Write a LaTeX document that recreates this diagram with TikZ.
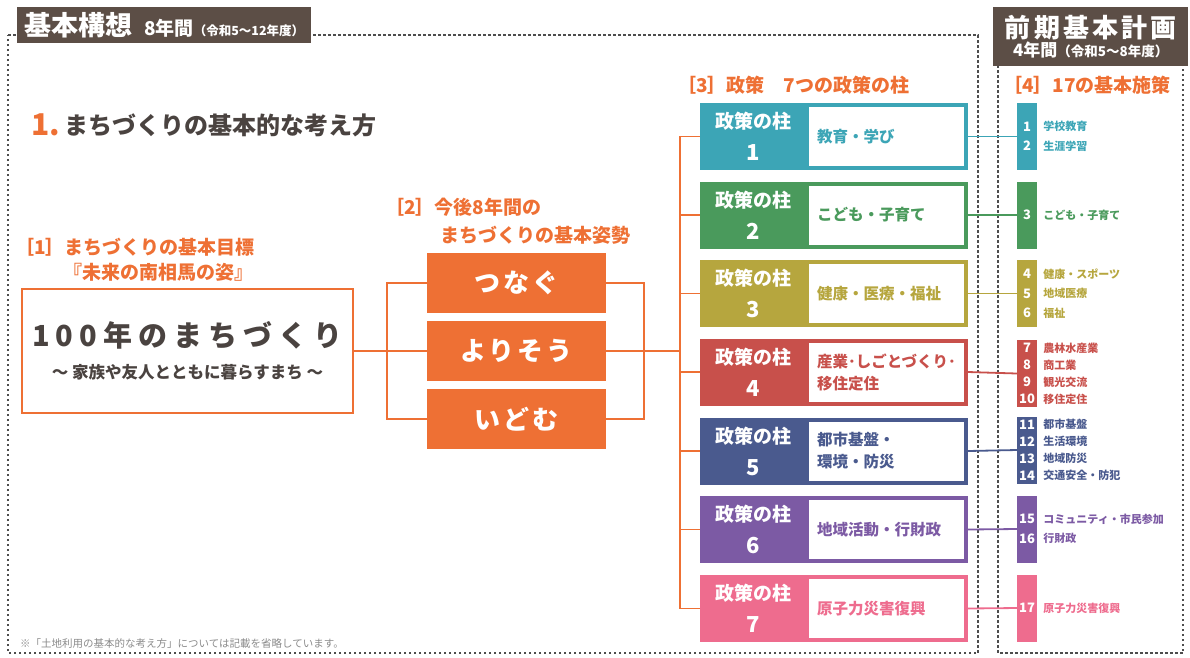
\documentclass[tikz,border=0pt]{standalone}
\usepackage{fontspec}
\setmainfont{Noto Sans CJK JP}
\newfontfamily\jpwide{Noto Sans CJK JP}[LetterSpace=12]
\newfontfamily\jpwider{Noto Sans CJK JP}[LetterSpace=21]
\usetikzlibrary{positioning}
\definecolor{brand}{HTML}{EE7034}
\definecolor{headbrown}{HTML}{5C4E46}
\definecolor{framegray}{HTML}{4D4D4D}
\definecolor{inkgray}{HTML}{4A4340}
\definecolor{notegray}{HTML}{8A8A8A}
\definecolor{c1}{HTML}{3CA5B6}
\definecolor{c2}{HTML}{4A9A5C}
\definecolor{c3}{HTML}{B6A63E}
\definecolor{c4}{HTML}{C8504B}
\definecolor{c5}{HTML}{4A5A8E}
\definecolor{c6}{HTML}{7C5AA4}
\definecolor{c7}{HTML}{EE6C8E}

\begin{document}
\begin{tikzpicture}
[ x=1pt, y=-1pt,
frame/.style={draw=framegray, line width=1.6pt, dash pattern=on 2.5pt off 2.5pt},
header/.style={fill=headbrown, text=white, inner sep=0pt, font=\bfseries},
caption/.style={anchor=west, inner sep=0pt, text=brand, font=\bfseries\fontsize{19}{19}\selectfont},
stance/.style={rectangle, fill=brand, text=white, inner sep=0pt,
 minimum width=179pt, minimum height=60pt, font=\bfseries\jpwide\fontsize{26}{26}\selectfont},
pillar/.style={rectangle, text=white, inner sep=0pt, align=center,
 minimum width=107pt, minimum height=67pt, font=\bfseries\fontsize{19}{32}\selectfont},
theme/.style={rectangle, fill=white, line width=4pt, inner xsep=10pt, inner ysep=0pt,
 text width=139pt, align=left, minimum height=63pt, font=\bfseries\fontsize{15.5}{22}\selectfont},
bar/.style={rectangle, text=white, inner sep=0pt, align=center,
 minimum width=20pt, minimum height=67pt, font=\bfseries\fontsize{13}{19.5}\selectfont},
item/.style={inner sep=0pt, align=left, font=\bfseries\fontsize{11}{19.5}\selectfont},
link/.style={draw=brand, line width=1.8pt},
] 
\useasboundingbox (0,0) rectangle (1190,657);

% dashed frames
\draw[frame] (8,35) -- (978,35) -- (978,653) -- (8,653) -- cycle;
\draw[frame] (998,40) -- (998,653) -- (1183,653) -- (1183,40);

% headers
\node (hdr1) [header, anchor=north west, minimum width=294pt, minimum height=36pt] at (17,7)
 {{\fontsize{27}{27}\selectfont 基本構想}\hspace{12pt}{\fontsize{19}{19}\selectfont 8年間}{\fontsize{12.5}{12.5}\selectfont （令和5〜12年度）}};
\node (hdr2) [header, anchor=north west, align=center, minimum width=195pt, minimum height=59pt] at (993,7)
 {{\jpwide\fontsize{26}{30}\selectfont 前期基本計画}\\{\fontsize{17}{20}\selectfont 4年間}{\fontsize{13.5}{20}\selectfont （令和5〜8年度）}};

% title
\node (num1) [anchor=west, inner sep=0pt, text=brand, font=\bfseries\fontsize{30}{30}\selectfont] at (31,125) {1.};
\node (title) [right=4pt of num1, inner sep=0pt, text=inkgray, font=\bfseries\fontsize{24}{24}\selectfont] {まちづくりの基本的な考え方};

% [1] goal
\node (cap1a) [caption] at (15,247) {［1］まちづくりの基本目標};
\node (cap1b) [caption] at (63,272) {『未来の南相馬の姿』};
\node (goal) [rectangle, draw=brand, line width=2pt, inner sep=0pt, align=center, text=inkgray,
 minimum width=331pt, minimum height=124pt] at (187.5,351)
 {{\bfseries\jpwider\fontsize{29}{29}\selectfont 100年のまちづくり}\\[14pt]
  {\bfseries\fontsize{16.5}{16.5}\selectfont 〜 家族や友人とともに暮らすまち 〜}};

% [2] stances
\node (cap2a) [caption] at (385,207) {［2］今後8年間の};
\node (cap2b) [caption] at (440,235) {まちづくりの基本姿勢};
\node (s1) [stance] at (516.5,283) {つなぐ};
\node (s2) [stance] at (516.5,351) {よりそう};
\node (s3) [stance] at (516.5,419) {いどむ};

\coordinate (bl) at (387,351);
\coordinate (br) at (644,351);
\coordinate (tr) at (680,351);
\draw[link] (goal.east) -- (s2.west);
\draw[link] (s1.west) -| (bl) |- (s3.west);
\draw[link] (s1.east) -| (br) |- (s3.east);
\draw[link] (s2.east) -- (tr);

% [3] pillars
\node (cap3) [caption] at (677,85) {［3］政策　7つの政策の柱};
\node (p1) [pillar, fill=c1] at (753.5,136.5) {政策の柱\\{\fontsize{22}{32}\selectfont 1}};
\node (p2) [pillar, fill=c2] at (753.5,215) {政策の柱\\{\fontsize{22}{32}\selectfont 2}};
\node (p3) [pillar, fill=c3] at (753.5,293.5) {政策の柱\\{\fontsize{22}{32}\selectfont 3}};
\node (p4) [pillar, fill=c4] at (753.5,372) {政策の柱\\{\fontsize{22}{32}\selectfont 4}};
\node (p5) [pillar, fill=c5] at (753.5,451) {政策の柱\\{\fontsize{22}{32}\selectfont 5}};
\node (p6) [pillar, fill=c6] at (753.5,529.5) {政策の柱\\{\fontsize{22}{32}\selectfont 6}};
\node (p7) [pillar, fill=c7] at (753.5,608.5) {政策の柱\\{\fontsize{22}{32}\selectfont 7}};

\node (p1t) [theme, draw=c1, text=c1] at (886.5,136.5) {教育・学び};
\node (p2t) [theme, draw=c2, text=c2] at (886.5,215) {こども・子育て};
\node (p3t) [theme, draw=c3, text=c3] at (886.5,293.5) {健康・医療・福祉};
\node (p4t) [theme, draw=c4, text=c4] at (886.5,372) {産業･しごとづくり･\\移住定住};
\node (p5t) [theme, draw=c5, text=c5] at (886.5,451) {都市基盤・\\環境・防災};
\node (p6t) [theme, draw=c6, text=c6] at (886.5,529.5) {地域活動・行財政};
\node (p7t) [theme, draw=c7, text=c7] at (886.5,608.5) {原子力災害復興};

\foreach \i in {1,...,7}
 \draw[link] (p\i.west) -| (tr);

% [4] measures
\node (cap4) [caption] at (1003,85) {［4］17の基本施策};
\node (b1) [bar, fill=c1] at (1027,136.5) {1\\2};
\node (b2) [bar, fill=c2] at (1027,215) {3};
\node (b3) [bar, fill=c3] at (1027,293.5) {4\\5\\6};
\node (b4) [bar, fill=c4, font=\bfseries\fontsize{13}{17}\selectfont] at (1027,373.5) {7\\8\\9\\10};
\node (b5) [bar, fill=c5, font=\bfseries\fontsize{13}{17}\selectfont] at (1027,450) {11\\12\\13\\14};
\node (b6) [bar, fill=c6] at (1027,529) {15\\16};
\node (b7) [bar, fill=c7] at (1027,608) {17};

\node (i1) [item, text=c1, right=6pt of b1] {学校教育\\生涯学習};
\node (i2) [item, text=c2, right=6pt of b2] {こども・子育て};
\node (i3) [item, text=c3, right=6pt of b3] {健康・スポーツ\\地域医療\\福祉};
\node (i4) [item, text=c4, right=6pt of b4, font=\bfseries\fontsize{11}{17}\selectfont] {農林水産業\\商工業\\観光交流\\移住定住};
\node (i5) [item, text=c5, right=6pt of b5, font=\bfseries\fontsize{11}{17}\selectfont] {都市基盤\\生活環境\\地域防災\\交通安全・防犯};
\node (i6) [item, text=c6, right=6pt of b6] {コミュニティ・市民参加\\行財政};
\node (i7) [item, text=c7, right=6pt of b7] {原子力災害復興};

\draw[draw=c1, line width=1.8pt] (p1t.east) -- (b1.west);
\draw[draw=c2, line width=1.8pt] (p2t.east) -- (b2.west);
\draw[draw=c3, line width=1.8pt] (p3t.east) -- (b3.west);
\draw[draw=c4, line width=1.8pt] (p4t.east) -- (b4.west);
\draw[draw=c5, line width=1.8pt] (p5t.east) -- (b5.west);
\draw[draw=c6, line width=1.8pt] (p6t.east) -- (b6.west);
\draw[draw=c7, line width=1.8pt] (p7t.east) -- (b7.west);

% note
\node (note) [anchor=west, inner sep=0pt, text=notegray, font=\fontsize{10.5}{10.5}\selectfont] at (20,643)
 {※「土地利用の基本的な考え方」については記載を省略しています。};
\end{tikzpicture}
\end{document}
